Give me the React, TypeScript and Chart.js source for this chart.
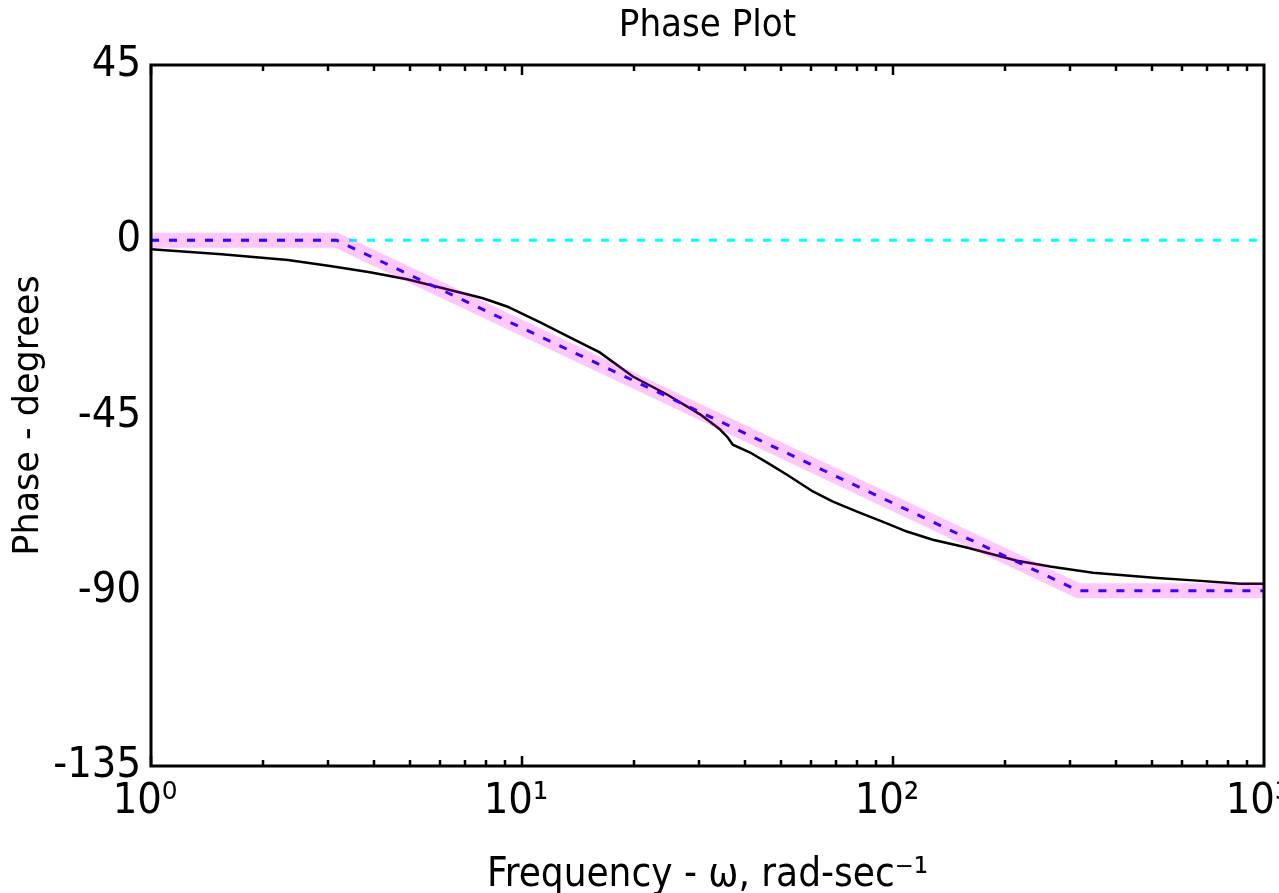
import React, { useEffect, useRef } from "react";
import { Chart, registerables } from "chart.js";

Chart.register(...registerables);

const freqActual = [1, 1.55, 2.34, 3.07, 3.89, 4.9, 6.28, 7.85, 9.11, 11.2, 13.5, 16.2, 19.9, 24.6, 30.2, 34.2, 35.9, 37.0, 41.2, 45.8, 51.8, 60.8, 68.9, 80, 94, 109, 128, 158, 216, 265, 346, 515, 660, 862, 1000];
const phaseActual = [-2.3, -3.6, -5.1, -6.7, -8.2, -10.0, -12.6, -14.9, -17.0, -21.1, -25.0, -28.8, -35.0, -39.6, -44.7, -48.6, -50.7, -52.5, -54.5, -57.1, -60.2, -64.5, -67.1, -69.7, -72.3, -74.8, -76.9, -78.9, -82.3, -83.8, -85.4, -86.7, -87.4, -88.2, -88.2];

// Straight-line asymptotic approximation (blue dashed + pink band)
const freqAsym = [1, 3.16, 316, 1000];
const phaseAsym = [0, 0, -90, -90];

// Zero-degree reference (cyan dashed)
const freqZero = [1, 1000];
const phaseZero = [0, 0];

// Axis ticks
const xTickValues = [1, 10, 100, 1000];
const xTickLabels = ["10\u2070", "10\u00B9", "10\u00B2", "10\u00B3"];
const yTickValues = [-135, -90, -45, 0, 45];
const yTickLabels = ["-135", "-90", "-45", "0", "45"];

const narrow = '"Liberation Sans Narrow", "Arial Narrow", "DejaVu Sans Condensed", "Liberation Sans", sans-serif';

const toPts = (xs: number[], ys: number[]) => xs.map((x, i) => ({ x, y: ys[i] }));

const framePlugin = {
  id: "frameTicks",
  afterDraw(chart: any) {
    const { ctx, chartArea } = chart;
    const xs = chart.scales.x;
    ctx.save();
    ctx.strokeStyle = "#000";
    ctx.lineWidth = 2.5;
    ctx.beginPath();
    for (let k = 0; k < 3; k++) {
      for (let m = 1; m <= 9; m++) {
        const v = m * Math.pow(10, k);
        const px = Math.round(xs.getPixelForValue(v));
        const len = m === 1 ? 10 : 6;
        ctx.moveTo(px, chartArea.bottom);
        ctx.lineTo(px, chartArea.bottom - len);
        ctx.moveTo(px, chartArea.top);
        ctx.lineTo(px, chartArea.top + len);
      }
    }
    ctx.stroke();
    ctx.lineWidth = 3;
    ctx.strokeRect(chartArea.left, chartArea.top, chartArea.right - chartArea.left, chartArea.bottom - chartArea.top);
    ctx.restore();
  },
};

export default function App() {
  const ref = useRef<HTMLCanvasElement | null>(null);
  useEffect(() => {
    if (!ref.current) return;
    const chart = new Chart(ref.current, {
      type: "line",
      data: {
        datasets: [
          {
            data: toPts(freqAsym, phaseAsym),
            borderColor: "rgba(255,0,255,0.22)",
            borderWidth: 15,
            pointRadius: 0,
            tension: 0,
            order: 0,
          },
          {
            data: toPts(freqAsym, phaseAsym),
            borderColor: "#0000ff",
            borderWidth: 3,
            borderDash: [8, 10],
            pointRadius: 0,
            tension: 0,
            order: 1,
          },
          {
            data: toPts(freqActual, phaseActual),
            borderColor: "#000000",
            borderWidth: 2.5,
            pointRadius: 0,
            tension: 0,
            order: 2,
          },
          {
            data: toPts(freqZero, phaseZero),
            borderColor: "#00ffff",
            borderWidth: 3,
            borderDash: [8, 10],
            pointRadius: 0,
            tension: 0,
            order: 3,
          },
        ],
      },
      options: {
        responsive: false,
        animation: false,
        events: [],
        layout: { padding: { left: 0, right: 66, top: 0, bottom: 0 } },
        plugins: {
          legend: { display: false },
          tooltip: { enabled: false },
          title: {
            display: true,
            text: "Phase Plot",
            fullSize: false,
            color: "#000",
            font: { family: narrow, size: 38, weight: "normal", lineHeight: 1.2 },
            padding: { top: 3, bottom: 16.4 },
          },
        },
        scales: {
          x: {
            type: "logarithmic",
            min: 1,
            max: 1000,
            grid: { display: false, drawTicks: false },
            border: { display: false },
            afterBuildTicks: (scale: any) => {
              scale.ticks = xTickValues.map((v) => ({ value: v }));
            },
            afterFit: (scale: any) => {
              scale.height = 127;
            },
            ticks: {
              autoSkip: false,
              maxRotation: 0,
              padding: 10,
              labelOffset: -6,
              color: "#000",
              font: { family: narrow, size: 43 },
              callback: (value: any) => {
                const i = xTickValues.findIndex((v) => Math.abs(v - Number(value)) < 1e-6 * v);
                return i >= 0 ? xTickLabels[i] : "";
              },
            },
            title: {
              display: true,
              text: "Frequency - \u03C9, rad-sec\u207B\u00B9",
              color: "#000",
              font: { family: narrow, size: 40, lineHeight: 1 },
              padding: { top: 0, bottom: -3 },
            },
          },
          y: {
            type: "linear",
            min: -135,
            max: 45,
            grid: { display: false, drawTicks: false },
            border: { display: false },
            afterBuildTicks: (scale: any) => {
              scale.ticks = yTickValues.map((v) => ({ value: v }));
            },
            afterFit: (scale: any) => {
              scale.width = 151;
            },
            ticks: {
              padding: 10,
              color: "#000",
              font: { family: narrow, size: 43 },
              callback: (value: any) => {
                const i = yTickValues.indexOf(Number(value));
                return i >= 0 ? yTickLabels[i] : "";
              },
            },
            title: {
              display: true,
              text: "Phase - degrees",
              color: "#000",
              font: { family: '"DejaVu Sans", sans-serif', size: 35, lineHeight: 1.2 },
              padding: { top: 8, bottom: 0 },
            },
          },
        },
      },
      plugins: [framePlugin],
    });
    return () => chart.destroy();
  }, []);

  return (
    <div style={{ position: "fixed", left: 0, top: 0, width: 1279, height: 893, overflow: "hidden", background: "#fff" }}>
      <canvas ref={ref} width={1330} height={893} style={{ display: "block" }} />
    </div>
  );
}
